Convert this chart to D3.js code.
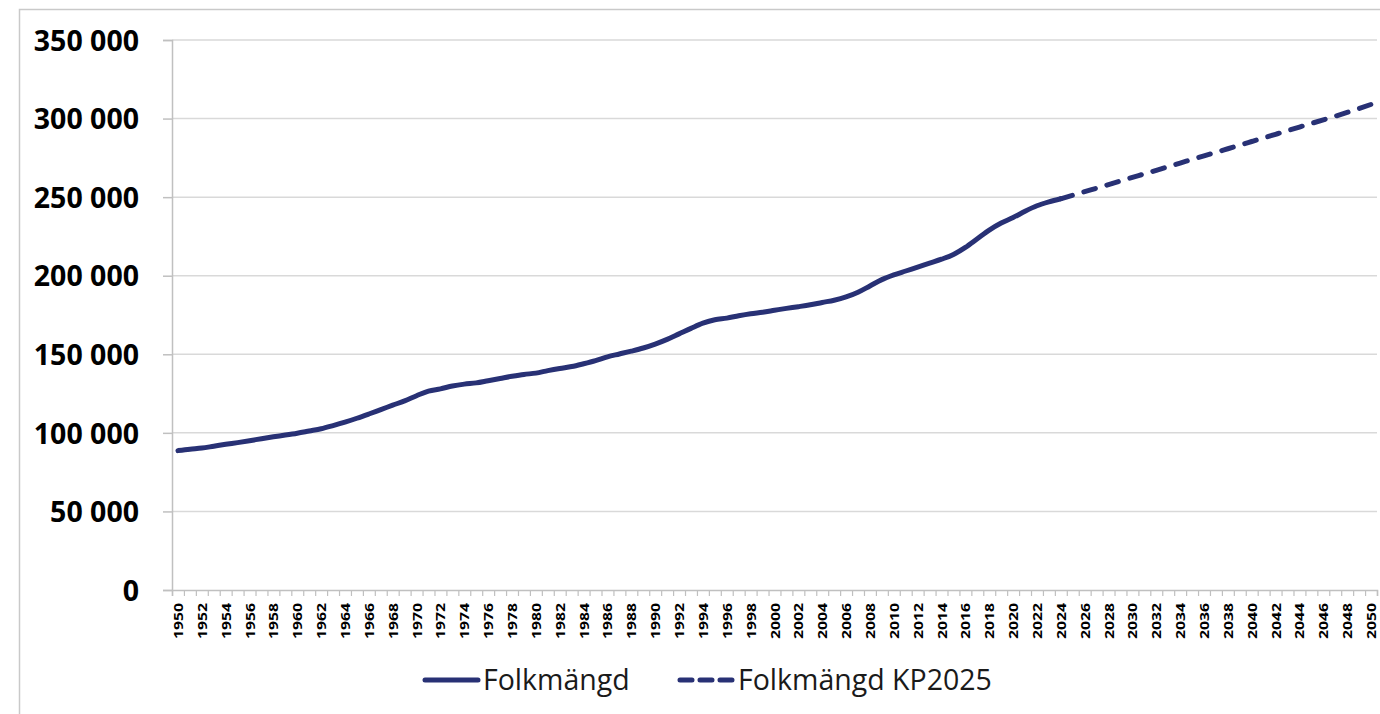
<!DOCTYPE html>
<html>
<head>
<meta charset="utf-8">
<script src="https://cdn.jsdelivr.net/npm/d3@7"></script>
<style>
  html, body { margin: 0; padding: 0; background: #fff; }
  svg { display: block; }
</style>
</head>
<body>
<svg id="chart" width="1380" height="714"></svg>
<script>
const width = 1380;
const height = 714;

// folkmängd per år, 1950-2024
const histStart = 1950;
const histValues = [
  88700, 89600, 90300, 91500, 92700, 93800, 95000, 96300, 97500, 98600,
  99800, 101200, 102600, 104600, 106800, 109300, 112000, 114800, 117600, 120400,
  123600, 126600, 128000, 129800, 131000, 131800, 133200, 134600, 136000, 137200,
  138000, 139600, 141000, 142200, 144000, 146000, 148400, 150200, 152000, 154000,
  156500, 159500, 163000, 166500, 169800, 172000, 173000, 174500, 175800, 176800,
  178000, 179200, 180300, 181500, 183000, 184400, 186500, 189500, 193500, 197500,
  200500, 203000, 205500, 208000, 210500, 213500, 218000, 223500, 229000, 233500,
  237000, 241000, 244500, 247000, 249000
];

// prognos KP2025, 2024-2050
const projStart = 2024;
const projValues = [
  249000, 251200, 253500, 255700, 258000, 260300, 262600, 264800, 267100, 269400,
  271700, 274000, 276300, 278500, 280800, 283100, 285400, 287700, 290000, 292300,
  294600, 296900, 299200, 301500, 303900, 306400, 309000
];

const years = d3.range(1950, 2051);
const yTicks = [0, 50000, 100000, 150000, 200000, 250000, 300000, 350000];
const seriesNames = ["Folkmängd", "Folkmängd KP2025"];

const lineColor = "#283175";
const margin = { top: 40, right: 3, bottom: 124, left: 172 };

const hist = histValues.map((v, i) => ({ year: histStart + i, value: v }));
const proj = projValues.map((v, i) => ({ year: projStart + i, value: v }));

const svg = d3.select("svg#chart");

// yttre ram
svg.append("rect")
  .attr("x", 19.5).attr("y", 9.5)
  .attr("width", width + 10).attr("height", height + 10)
  .attr("fill", "none")
  .attr("stroke", "#c9c9c9")
  .attr("stroke-width", 1.5);

const x = d3.scalePoint()
  .domain(years)
  .range([margin.left, width - margin.right])
  .padding(0.5);

const y = d3.scaleLinear()
  .domain([0, 350000])
  .range([height - margin.bottom, margin.top]);

const fmt = d3.formatLocale({ decimal: ",", thousands: " ", grouping: [3], currency: ["", " kr"] }).format(",d");

// stödlinjer
svg.append("g")
  .selectAll("line")
  .data(yTicks.filter(d => d > 0))
  .join("line")
  .attr("x1", margin.left)
  .attr("x2", width - margin.right)
  .attr("y1", d => y(d))
  .attr("y2", d => y(d))
  .attr("stroke", "#d9d9d9")
  .attr("stroke-width", 1.5);

// y-axel
const yAxis = svg.append("g")
  .attr("transform", `translate(${margin.left},0)`)
  .call(d3.axisLeft(y).tickValues(yTicks).tickFormat(fmt).tickSize(9).tickPadding(24));
yAxis.select(".domain").attr("stroke", "#c0c0c0").attr("stroke-width", 1.5);
yAxis.selectAll(".tick line").attr("stroke", "#c0c0c0").attr("stroke-width", 1.5);
yAxis.selectAll(".tick text")
  .attr("fill", "#000")
  .attr("dy", "0.36em")
  .style("font-family", "'Open Sans', sans-serif")
  .style("font-weight", 700)
  .style("font-size", "28.5px");

// x-axel: streck mellan kategorierna
const xEdge = d3.scaleLinear()
  .domain([0, years.length])
  .range([margin.left, width - margin.right]);
const xTickAxis = svg.append("g")
  .attr("transform", `translate(0,${height - margin.bottom})`)
  .call(d3.axisBottom(xEdge).tickValues(d3.range(0, years.length + 1)).tickSize(6).tickFormat(""));
xTickAxis.select(".domain").attr("stroke", "#c0c0c0").attr("stroke-width", 1.5);
xTickAxis.selectAll(".tick line").attr("stroke", "#c0c0c0").attr("stroke-width", 1.2);

// x-axel: etiketter varannat år
const xLabelAxis = svg.append("g")
  .attr("transform", `translate(0,${height - margin.bottom})`)
  .call(d3.axisBottom(x).tickValues(years.filter(d => d % 2 === 0)).tickSize(0).tickFormat(d3.format("d")));
xLabelAxis.select(".domain").remove();
xLabelAxis.selectAll(".tick text")
  .attr("transform", "rotate(-90)")
  .attr("text-anchor", "end")
  .attr("x", -13)
  .attr("y", 0)
  .attr("dy", "0.36em")
  .attr("textLength", 36)
  .attr("lengthAdjust", "spacingAndGlyphs")
  .attr("fill", "#000")
  .style("font-family", "'Open Sans', sans-serif")
  .style("font-weight", 700)
  .style("font-size", "12.5px");

const line = d3.line()
  .x(d => x(d.year))
  .y(d => y(d.value))
  .curve(d3.curveMonotoneX);

svg.append("path")
  .datum(proj)
  .attr("d", line)
  .attr("fill", "none")
  .attr("stroke", lineColor)
  .attr("stroke-width", 5)
  .attr("stroke-linecap", "round")
  .attr("stroke-dasharray", "12,12");

svg.append("path")
  .datum(hist)
  .attr("d", line)
  .attr("fill", "none")
  .attr("stroke", lineColor)
  .attr("stroke-width", 5)
  .attr("stroke-linecap", "round")
  .attr("stroke-linejoin", "round");

// legend
const legend = [
  { name: seriesNames[0], x1: 425, x2: 478, tx: 483, dash: null },
  { name: seriesNames[1], x1: 680, x2: 733, tx: 738, dash: "12,8" }
];
const lg = svg.append("g").selectAll("g").data(legend).join("g");
lg.append("line")
  .attr("x1", d => d.x1).attr("x2", d => d.x2)
  .attr("y1", 680).attr("y2", 680)
  .attr("stroke", lineColor)
  .attr("stroke-width", 5)
  .attr("stroke-linecap", "round")
  .attr("stroke-dasharray", d => d.dash);
lg.append("text")
  .attr("x", d => d.tx)
  .attr("y", 690)
  .attr("fill", "#1a1a1a")
  .style("font-family", "'Open Sans', sans-serif")
  .style("font-size", "28.5px")
  .text(d => d.name);
</script>
</body>
</html>
